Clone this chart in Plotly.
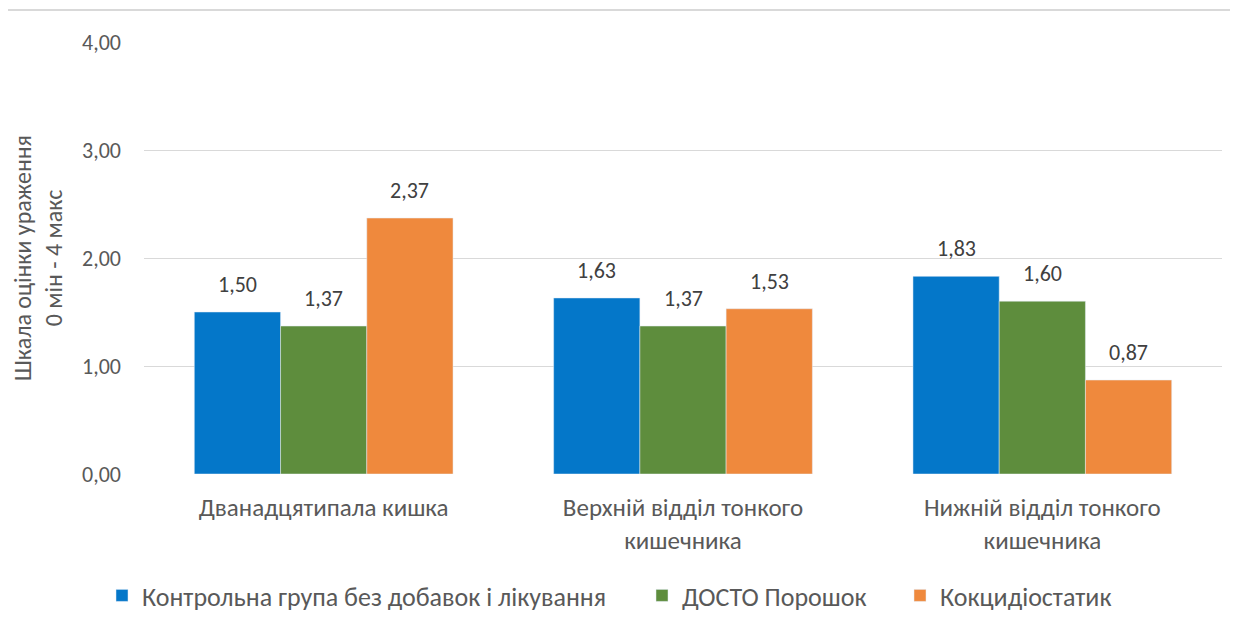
import plotly.graph_objects as go

categories = ["Дванадцятипала кишка", "Верхній відділ тонкого<br>кишечника", "Нижній відділ тонкого<br>кишечника"]
series_names = ["Контрольна група без добавок і лікування", "ДОСТО Порошок", "Кокцидіостатик"]
control = [1.50, 1.63, 1.83]
dosto = [1.37, 1.37, 1.60]
coccid = [2.37, 1.53, 0.87]
colors = ["#0477C9", "#5E8D3D", "#EF893D"]
tick_vals = [0, 1, 2, 3, 4]

FONT = "Carlito, Lato, 'Liberation Sans', sans-serif"
GRAY = "#595959"

T, B, L, R = 34, 165, 136, 24
PH = 631 - T - B
PW = 1238 - L - R
BARGAP = 0.28
NS = 3
BW = (1 - BARGAP) / NS

legend_px = [116, 656, 914]
legend_keys = ["legend", "legend2", "legend3"]
ly = -(578 - 14 - (631 - B)) / PH

fig = go.Figure()
annotations = []
for i, (name, vals, col) in enumerate(zip(series_names, [control, dosto, coccid], colors)):
    fig.add_trace(go.Bar(
        x=categories, y=vals, name=name, marker_color=col,
        legend=legend_keys[i],
    ))
    off = (i - (NS - 1) / 2) * BW
    for j, v in enumerate(vals):
        annotations.append(dict(
            x=j + off, y=v, xref="x", yref="y", text=f"{v:.2f}".replace(".", ","),
            showarrow=False, yanchor="bottom", yshift=12,
            font=dict(size=22, color="#404040", family=FONT),
        ))

legend_common = dict(orientation="h", yanchor="top", xanchor="left", y=ly,
                     font=dict(size=26, color=GRAY, family=FONT),
                     itemwidth=30, bgcolor="rgba(0,0,0,0)")
layout_legends = {}
for k, px in zip(legend_keys, legend_px):
    layout_legends[k] = dict(legend_common, x=(px - 22 - L) / PW)

fig.update_layout(
    width=1238, height=631,
    paper_bgcolor="white", plot_bgcolor="white",
    margin=dict(l=L, r=R, t=T, b=B),
    barmode="group", bargap=BARGAP, bargroupgap=0,
    separators=", ",
    font=dict(family=FONT, color=GRAY, size=22),
    showlegend=True,
    xaxis=dict(showline=False, ticks="", tickfont=dict(size=25, color=GRAY),
               ticklabelstandoff=16),
    yaxis=dict(range=[0, 4], tickvals=tick_vals, tickformat=".2f",
               showgrid=True, gridcolor="#D9D9D9", gridwidth=1,
               zeroline=False, showline=False, ticks="", ticklen=0,
               tickfont=dict(size=22, color=GRAY), ticklabelstandoff=22,
               title=dict(text="Шкала оцінки ураження<br>0 мін - 4 макс",
                          font=dict(size=24, color=GRAY), standoff=14)),
    annotations=annotations,
    shapes=[dict(type="line", xref="paper", yref="paper", x0=-0.2, x1=1.03,
                 y0=(631 - 2 - B) / PH, y1=(631 - 2 - B) / PH,
                 line=dict(color="#D9D9D9", width=2))],
    **layout_legends,
)

fig.write_html("out.html")
